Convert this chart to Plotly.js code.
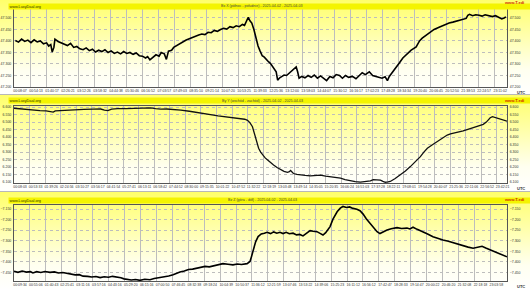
<!DOCTYPE html>
<html><head><meta charset="utf-8">
<script src="https://cdn.plot.ly/plotly-3.0.1.min.js"></script>
<style>
html,body{margin:0;padding:0;background:#fff;}
#wrap{position:relative;width:530px;height:290px;overflow:hidden;}
.bg{position:absolute;left:0;width:530px;background:linear-gradient(to bottom,#ffff6a 0%,#ffffb0 40%,#fffff0 75%,#ffffff 100%);}
.sep{position:absolute;left:0;width:530px;height:1px;background:#b8b8b8;}
#chart{position:absolute;left:0;top:0;width:530px;height:290px;}
</style></head>
<body>
<div id="wrap">
<div class="bg" style="top:0;height:94px"></div>
<div class="sep" style="top:94px"></div>
<div class="bg" style="top:95px;height:96px"></div>
<div class="sep" style="top:191px"></div>
<div class="bg" style="top:192px;height:98px"></div>
<div id="chart"></div>
</div>
<script>
// ---- tick labels ----
const ticks1 = ["00:08:07","00:54:13","01:40:17","02:26:21","03:12:26","03:58:32","04:44:38","05:30:46","06:16:52","07:03:57","07:49:03","08:35:10","09:21:14","10:07:20","10:53:25","11:39:33","12:25:36","13:12:00","13:58:03","14:44:07","15:30:12","16:16:17","17:02:23","17:48:28","18:34:34","19:20:40","20:06:45","20:52:50","21:38:53","22:24:57","23:11:02"];
const ticks2 = ["00:08:03","00:53:33","01:39:26","02:24:56","03:10:27","03:56:17","04:41:54","05:27:41","06:13:11","06:58:42","07:44:52","08:30:00","09:15:35","10:01:22","10:47:52","11:32:22","12:18:19","13:03:48","13:49:14","14:35:05","15:20:35","16:06:24","16:51:03","17:37:28","18:22:11","19:08:01","19:54:28","20:40:07","21:25:36","22:11:06","22:56:52","23:42:21"];
const ticks3 = ["00:09:34","00:55:06","01:40:43","02:25:41","03:11:16","03:57:16","04:43:16","05:29:20","06:15:16","07:00:50","07:46:45","08:32:38","09:18:24","10:04:39","10:50:37","11:36:12","12:21:59","13:07:46","13:53:22","14:39:06","15:25:23","16:11:12","16:56:12","17:42:47","18:28:33","19:14:47","20:00:22","20:46:20","21:32:08","22:18:18","23:03:58"];

const titles = ["Bx X (północ - południe) - 2025-04-02 - 2025-04-03","By Y (wschód - zachód) - 2025-04-02 - 2025-04-03","Bz Z (góra - dół) - 2025-04-02 - 2025-04-03"];

// ---- series: hours of day / values ----
const p1Hours = [0.20,0.35,0.50,0.65,0.80,0.95,1.10,1.25,1.40,1.55,1.70,1.80,1.90,1.97,2.05,2.10,2.25,2.40,2.55,2.70,2.85,3.00,3.15,3.30,3.45,3.60,3.75,3.90,4.05,4.20,4.35,4.50,4.65,4.80,4.95,5.10,5.25,5.40,5.55,5.70,5.85,6.00,6.15,6.30,6.45,6.55,6.66,6.80,6.95,7.10,7.20,7.35,7.45,7.55,7.70,7.80,7.95,8.10,8.25,8.40,8.55,8.70,8.85,9.00,9.15,9.30,9.45,9.60,9.75,9.90,10.05,10.20,10.35,10.50,10.65,10.80,10.95,11.10,11.20,11.30,11.38,11.46,11.55,11.65,11.75,11.85,11.95,12.05,12.15,12.25,12.35,12.45,12.55,12.65,12.72,12.79,12.89,13.00,13.10,13.22,13.35,13.50,13.60,13.68,13.75,13.82,13.95,14.10,14.25,14.40,14.55,14.70,14.85,15.00,15.14,15.30,15.45,15.60,15.76,15.90,16.05,16.20,16.38,16.55,16.72,16.85,17.00,17.19,17.35,17.50,17.67,17.80,17.95,18.06,18.15,18.29,18.45,18.63,18.80,19.01,19.20,19.44,19.60,19.73,19.90,20.05,20.16,20.30,20.54,20.70,20.85,21.02,21.20,21.35,21.50,21.70,21.84,21.92,22.00,22.15,22.30,22.46,22.60,22.75,22.94,23.10,23.25,23.42,23.55,23.66,23.75];
const p1Values = [47.402,47.395,47.408,47.398,47.404,47.393,47.405,47.396,47.400,47.388,47.392,47.378,47.384,47.352,47.372,47.408,47.398,47.392,47.386,47.380,47.390,47.372,47.376,47.366,47.362,47.370,47.358,47.364,47.352,47.360,47.354,47.362,47.350,47.357,47.346,47.352,47.344,47.354,47.346,47.350,47.342,47.348,47.336,47.334,47.326,47.332,47.318,47.330,47.340,47.334,47.350,47.344,47.320,47.356,47.360,47.372,47.380,47.390,47.396,47.404,47.410,47.416,47.420,47.426,47.430,47.428,47.438,47.436,47.446,47.442,47.450,47.455,47.452,47.462,47.458,47.466,47.462,47.472,47.468,47.490,47.503,47.488,47.478,47.450,47.412,47.378,47.356,47.336,47.330,47.318,47.310,47.302,47.290,47.278,47.266,47.230,47.240,47.246,47.252,47.250,47.260,47.272,47.282,47.287,47.266,47.238,47.246,47.240,47.250,47.242,47.252,47.238,47.248,47.236,47.228,47.246,47.240,47.254,47.250,47.238,47.250,47.242,47.246,47.236,47.252,47.262,47.254,47.266,47.250,47.246,47.242,47.238,47.244,47.228,47.246,47.262,47.284,47.304,47.326,47.346,47.360,47.374,47.400,47.412,47.424,47.436,47.440,47.450,47.460,47.466,47.474,47.478,47.482,47.486,47.488,47.494,47.498,47.512,47.516,47.510,47.514,47.512,47.508,47.514,47.510,47.506,47.510,47.502,47.496,47.500,47.505];

const p2Hours = [0.13,0.40,0.70,1.00,1.11,1.40,1.70,1.94,2.05,2.15,2.50,2.77,3.10,3.55,4.00,4.37,4.55,4.72,4.90,5.20,5.60,5.98,6.40,6.81,7.05,7.30,7.60,7.93,8.28,8.70,9.10,9.50,9.88,10.10,10.37,10.71,11.00,11.20,11.40,11.54,11.66,11.78,11.86,11.93,12.00,12.08,12.18,12.27,12.40,12.52,12.65,12.81,12.98,13.15,13.32,13.49,13.58,13.64,13.70,13.78,13.95,14.12,14.35,14.61,14.85,15.10,15.35,15.59,15.85,16.08,16.30,16.56,16.80,17.05,17.30,17.54,17.68,17.85,18.03,18.15,18.27,18.40,18.51,18.75,19.00,19.25,19.49,19.75,19.98,20.15,20.32,20.55,20.80,21.05,21.29,21.45,21.58,21.80,22.07,22.30,22.56,22.80,23.05,23.20,23.39,23.50,23.60,23.87,24.05,24.21];
const p2Values = [6.592,6.588,6.584,6.582,6.578,6.576,6.575,6.572,6.566,6.574,6.578,6.580,6.582,6.585,6.586,6.587,6.580,6.576,6.586,6.590,6.590,6.591,6.593,6.595,6.590,6.586,6.587,6.585,6.580,6.572,6.565,6.556,6.547,6.541,6.536,6.531,6.527,6.524,6.519,6.512,6.495,6.469,6.430,6.392,6.360,6.326,6.300,6.281,6.262,6.248,6.232,6.215,6.198,6.182,6.172,6.166,6.170,6.178,6.168,6.158,6.152,6.148,6.146,6.143,6.147,6.148,6.141,6.138,6.134,6.127,6.118,6.109,6.104,6.101,6.104,6.109,6.118,6.116,6.114,6.106,6.100,6.102,6.105,6.125,6.148,6.175,6.204,6.236,6.270,6.300,6.326,6.348,6.370,6.393,6.414,6.422,6.425,6.433,6.441,6.452,6.463,6.474,6.485,6.500,6.529,6.536,6.532,6.520,6.512,6.506];

const p3Hours = [0.16,0.35,0.55,0.75,0.95,1.07,1.25,1.45,1.65,1.89,2.10,2.30,2.50,2.71,2.90,3.10,3.30,3.48,3.70,3.90,4.10,4.30,4.50,4.70,4.90,5.11,5.30,5.45,5.59,5.80,6.00,6.22,6.45,6.70,6.90,7.05,7.18,7.40,7.60,7.81,8.00,8.14,8.35,8.55,8.75,8.96,9.15,9.35,9.55,9.73,9.95,10.21,10.45,10.69,10.90,11.10,11.37,11.51,11.58,11.66,11.78,11.90,12.05,12.20,12.33,12.50,12.65,12.80,12.95,13.10,13.25,13.40,13.58,13.75,13.90,14.06,14.20,14.40,14.55,14.73,14.90,15.02,15.15,15.36,15.50,15.70,15.85,15.98,16.15,16.30,16.46,16.65,16.80,16.95,17.10,17.28,17.45,17.62,17.76,17.92,18.10,18.30,18.58,18.80,19.06,19.20,19.35,19.55,19.83,20.05,20.31,20.55,20.79,21.05,21.28,21.50,21.76,22.00,22.24,22.45,22.67,22.85,23.06,23.30,23.54,23.70,23.87];
const p3Values = [-7.444,-7.449,-7.443,-7.448,-7.446,-7.452,-7.446,-7.450,-7.445,-7.449,-7.447,-7.452,-7.450,-7.455,-7.456,-7.461,-7.460,-7.467,-7.468,-7.471,-7.469,-7.474,-7.470,-7.472,-7.468,-7.471,-7.475,-7.480,-7.483,-7.485,-7.483,-7.487,-7.482,-7.484,-7.478,-7.476,-7.471,-7.468,-7.466,-7.460,-7.452,-7.447,-7.443,-7.436,-7.434,-7.429,-7.426,-7.421,-7.423,-7.418,-7.413,-7.408,-7.411,-7.414,-7.410,-7.412,-7.408,-7.398,-7.375,-7.343,-7.305,-7.280,-7.268,-7.264,-7.260,-7.266,-7.258,-7.264,-7.260,-7.266,-7.260,-7.267,-7.264,-7.272,-7.270,-7.277,-7.266,-7.252,-7.255,-7.257,-7.266,-7.273,-7.262,-7.233,-7.198,-7.163,-7.146,-7.138,-7.143,-7.140,-7.147,-7.151,-7.158,-7.174,-7.196,-7.217,-7.240,-7.257,-7.266,-7.257,-7.249,-7.243,-7.238,-7.242,-7.240,-7.244,-7.236,-7.246,-7.257,-7.268,-7.281,-7.290,-7.296,-7.302,-7.309,-7.317,-7.323,-7.330,-7.335,-7.330,-7.326,-7.334,-7.343,-7.354,-7.364,-7.370,-7.376];

function toHours(s){const p=s.split(':').map(Number);return p[0]+p[1]/60+p[2]/3600;}

const W=530,H=290;
const xDom=[14/W,507/W];
const FONT="Liberation Sans, Arial, sans-serif";
const tickFont={family:FONT,size:3.5,color:'#333'};
const GRID='#bdbdbd';

function xAx(ticks,range,anchor){
  return {domain:xDom,range:range,anchor:anchor,tickmode:'array',tickvals:ticks.map(toHours),ticktext:ticks,
    tickangle:0,tickfont:tickFont,ticklabelshift:6,ticklabelstandoff:0,ticks:'',showgrid:true,gridcolor:GRID,gridwidth:1,
    showline:true,mirror:true,linecolor:'#555',linewidth:1,zeroline:false,fixedrange:true,automargin:false};
}
function yAx(dom,range,t0,anchor,right,overl){
  const a={domain:dom,range:range,anchor:anchor,tick0:t0,dtick:0.05,tickformat:'.3f',tickfont:tickFont,ticks:'',
    tickangle:0,ticklabelstandoff:1,zeroline:false,fixedrange:true,automargin:false,showline:true,linecolor:'#555',linewidth:1};
  if(right){a.side='right';a.overlaying=overl;a.showgrid=false;}
  else{a.showgrid=true;a.gridcolor=GRID;a.griddash='dot';a.mirror=true;}
  return a;
}
const d1=[1-87/H,1-9/H], d2=[1-183/H,1-106/H], d3=[1-281/H,1-205/H];
const r1=[47.2,47.539], r2=[6.095,6.607], r3=[-7.490,-7.131];

const lineThick={color:'#000',width:1.6};
const lineThin={color:'#111',width:1.3};
const hid={width:0,color:'rgba(0,0,0,0)'};
const data=[
  {x:p1Hours,y:p1Values,xaxis:'x',yaxis:'y',type:'scatter',mode:'lines',line:lineThick,hoverinfo:'skip'},
  {x:p1Hours,y:p1Values,xaxis:'x',yaxis:'y2',type:'scatter',mode:'lines',line:hid,hoverinfo:'skip'},
  {x:p2Hours,y:p2Values,xaxis:'x2',yaxis:'y3',type:'scatter',mode:'lines',line:lineThin,hoverinfo:'skip'},
  {x:p2Hours,y:p2Values,xaxis:'x2',yaxis:'y4',type:'scatter',mode:'lines',line:hid,hoverinfo:'skip'},
  {x:p3Hours,y:p3Values,xaxis:'x3',yaxis:'y5',type:'scatter',mode:'lines',line:lineThick,hoverinfo:'skip'},
  {x:p3Hours,y:p3Values,xaxis:'x3',yaxis:'y6',type:'scatter',mode:'lines',line:hid,hoverinfo:'skip'}
];

const ann=[];
const heads=[{top:6,red:2.5},{top:101,red:100},{top:200,red:199}];
heads.forEach((h,i)=>{
  ann.push({xref:'paper',yref:'paper',x:8/W,y:1-h.top/H,xanchor:'left',yanchor:'middle',showarrow:false,
    text:'www.LuxyDaal.org',font:{family:FONT,size:3.8,color:'#333300'},bgcolor:'#f4f400',borderpad:0.5});
  ann.push({xref:'paper',yref:'paper',x:262/W,y:1-h.top/H,xanchor:'center',yanchor:'middle',showarrow:false,
    text:titles[i],font:{family:FONT,size:3.6,color:'#444'}});
  ann.push({xref:'paper',yref:'paper',x:526/W,y:1-h.red/H,xanchor:'right',yanchor:'middle',showarrow:false,
    text:'<b>www.T.edi</b>',font:{family:FONT,size:4,color:'#d03000'}});
});
[92.5,188,286].forEach(yy=>{
  ann.push({xref:'paper',yref:'paper',x:527/W,y:1-yy/H,xanchor:'right',yanchor:'middle',showarrow:false,
    text:'<b>UTC</b>',font:{family:FONT,size:4,color:'#333'}});
});

const layout={
  width:W,height:H,margin:{l:0,r:0,t:0,b:0},autosize:false,showlegend:false,
  paper_bgcolor:'rgba(0,0,0,0)',plot_bgcolor:'rgba(0,0,0,0)',
  xaxis:xAx(ticks1,[0.135,23.8],'y'),
  xaxis2:xAx(ticks2,[0.134,24.21],'y3'),
  xaxis3:xAx(ticks3,[0.159,23.87],'y5'),
  yaxis:yAx(d1,r1,47.2,'x',false),
  yaxis2:yAx(d1,r1,47.2,'x',true,'y'),
  yaxis3:yAx(d2,r2,6.1,'x2',false),
  yaxis4:yAx(d2,r2,6.1,'x2',true,'y3'),
  yaxis5:yAx(d3,r3,-7.45,'x3',false),
  yaxis6:yAx(d3,r3,-7.45,'x3',true,'y5'),
  annotations:ann
};
Plotly.newPlot('chart',data,layout,{staticPlot:true,displayModeBar:false});
</script>
</body></html>
